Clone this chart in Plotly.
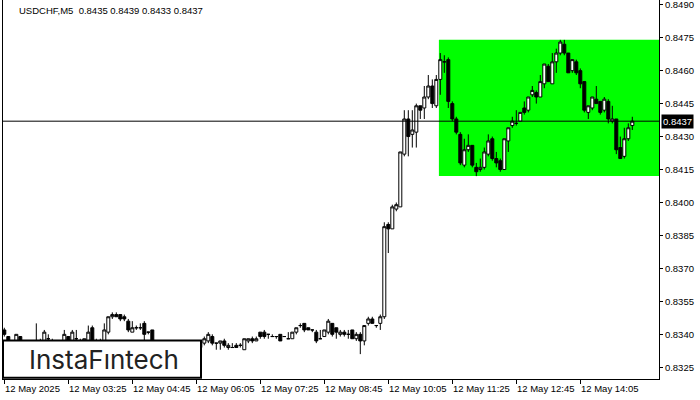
import pandas as pd
import plotly.graph_objects as go

title_text = "USDCHF,M5  0.8435 0.8439 0.8433 0.8437"
first_bar = "2025-05-12 02:05"

opens = [
    0.8342, 0.8339, 0.8336, 0.8335, 0.8339, 0.8336, 0.8335, 0.8334, 0.8335, 0.8336,
    0.8336, 0.8338, 0.8337, 0.8336, 0.8337, 0.8336, 0.8339, 0.8336, 0.8338, 0.8337,
    0.8337, 0.8336, 0.8343, 0.8337, 0.8337, 0.8336, 0.8341, 0.8348, 0.8349, 0.8349,
    0.8348, 0.8346, 0.8341, 0.8343, 0.8343, 0.8345, 0.8341, 0.8342, 0.8336, 0.8335,
    0.8334, 0.8333, 0.8334, 0.8335, 0.8334, 0.8335, 0.8336, 0.8335, 0.8335, 0.8334,
    0.8336, 0.8337, 0.8339, 0.8336, 0.8336, 0.8337, 0.8334, 0.8334, 0.8335, 0.8335,
    0.8333, 0.8337, 0.8338, 0.8337, 0.8341, 0.8341, 0.8340, 0.8339, 0.8339, 0.8340,
    0.8339, 0.8338, 0.8338, 0.8341, 0.8344, 0.8345, 0.8343, 0.8342, 0.8341, 0.8338,
    0.8339, 0.8341, 0.8345, 0.8343, 0.8340, 0.8341, 0.8340, 0.8342, 0.8338, 0.8340,
    0.8337, 0.8345, 0.8347, 0.8344, 0.8345, 0.8348, 0.8390, 0.8388, 0.8397, 0.8398,
    0.8422, 0.8438, 0.8431, 0.8432, 0.8444, 0.8443, 0.8448, 0.8453, 0.8444, 0.8456,
    0.8464, 0.8465, 0.8445, 0.8438, 0.8431, 0.8417, 0.8424, 0.8426, 0.8416, 0.8415,
    0.8416, 0.8422, 0.8429, 0.8420, 0.8419, 0.8415, 0.8428, 0.8435, 0.8436, 0.8437,
    0.8443, 0.8442, 0.8449, 0.8450, 0.8448, 0.8454, 0.8462, 0.8454, 0.8464, 0.8468,
    0.8472, 0.8468, 0.8460, 0.8464, 0.8460, 0.8455, 0.8441, 0.8443, 0.8447, 0.8446,
    0.8442, 0.8446, 0.8437, 0.8438, 0.8425, 0.8421, 0.8429, 0.8435,
]
highs = [
    0.8343, 0.8339, 0.8337, 0.8340, 0.8339, 0.8337, 0.8336, 0.8336, 0.8345, 0.8338,
    0.8342, 0.8340, 0.8338, 0.8337, 0.8337, 0.8342, 0.8339, 0.8342, 0.8342, 0.8338,
    0.8338, 0.8344, 0.8344, 0.8338, 0.8338, 0.8345, 0.8348, 0.8350, 0.8350, 0.8349,
    0.8349, 0.8347, 0.8346, 0.8344, 0.8345, 0.8346, 0.8341, 0.8342, 0.8337, 0.8336,
    0.8335, 0.8335, 0.8336, 0.8336, 0.8336, 0.8337, 0.8337, 0.8336, 0.8336, 0.8336,
    0.8339, 0.8341, 0.8340, 0.8336, 0.8337, 0.8338, 0.8336, 0.8336, 0.8336, 0.8336,
    0.8338, 0.8338, 0.8339, 0.8339, 0.8341, 0.8342, 0.8340, 0.8340, 0.8339, 0.8340,
    0.8339, 0.8341, 0.8341, 0.8343, 0.8345, 0.8345, 0.8343, 0.8342, 0.8342, 0.8342,
    0.8342, 0.8347, 0.8345, 0.8343, 0.8342, 0.8342, 0.8342, 0.8342, 0.8341, 0.8341,
    0.8344, 0.8348, 0.8348, 0.8344, 0.8349, 0.8391, 0.8391, 0.8399, 0.8400, 0.8423,
    0.8442, 0.8442, 0.8442, 0.8445, 0.8444, 0.8453, 0.8458, 0.8456, 0.8458, 0.8468,
    0.8467, 0.8466, 0.8446, 0.8439, 0.8432, 0.8429, 0.8431, 0.8426, 0.8418, 0.8420,
    0.8425, 0.8431, 0.8430, 0.8423, 0.8420, 0.8429, 0.8434, 0.8439, 0.8442, 0.8441,
    0.8446, 0.8448, 0.8453, 0.8451, 0.8458, 0.8463, 0.8463, 0.8468, 0.8470, 0.8474,
    0.8474, 0.8468, 0.8465, 0.8465, 0.8461, 0.8455, 0.8444, 0.8448, 0.8453, 0.8446,
    0.8448, 0.8447, 0.8444, 0.8438, 0.8430, 0.8434, 0.8436, 0.8439,
]
lows = [
    0.8339, 0.8335, 0.8334, 0.8334, 0.8335, 0.8334, 0.8333, 0.8333, 0.8334, 0.8335,
    0.8335, 0.8337, 0.8336, 0.8334, 0.8335, 0.8335, 0.8336, 0.8335, 0.8337, 0.8336,
    0.8336, 0.8335, 0.8335, 0.8336, 0.8336, 0.8335, 0.8340, 0.8347, 0.8348, 0.8346,
    0.8346, 0.8341, 0.8341, 0.8342, 0.8342, 0.8337, 0.8340, 0.8335, 0.8334, 0.8333,
    0.8332, 0.8332, 0.8333, 0.8333, 0.8333, 0.8334, 0.8334, 0.8334, 0.8333, 0.8333,
    0.8335, 0.8336, 0.8335, 0.8333, 0.8333, 0.8334, 0.8333, 0.8334, 0.8334, 0.8334,
    0.8333, 0.8336, 0.8336, 0.8337, 0.8338, 0.8338, 0.8338, 0.8339, 0.8338, 0.8337,
    0.8339, 0.8338, 0.8338, 0.8340, 0.8343, 0.8341, 0.8342, 0.8341, 0.8336, 0.8338,
    0.8339, 0.8340, 0.8339, 0.8338, 0.8339, 0.8339, 0.8338, 0.8338, 0.8337, 0.8331,
    0.8335, 0.8344, 0.8345, 0.8343, 0.8342, 0.8347, 0.8377, 0.8388, 0.8396, 0.8398,
    0.8421, 0.8421, 0.8425, 0.8425, 0.8438, 0.8438, 0.8447, 0.8443, 0.8443, 0.8449,
    0.8459, 0.8443, 0.8437, 0.8431, 0.8417, 0.8416, 0.8423, 0.8416, 0.8412, 0.8414,
    0.8415, 0.8421, 0.8419, 0.8416, 0.8414, 0.8415, 0.8423, 0.8434, 0.8435, 0.8437,
    0.8440, 0.8441, 0.8448, 0.8445, 0.8448, 0.8452, 0.8455, 0.8454, 0.8459, 0.8467,
    0.8467, 0.8459, 0.8459, 0.8458, 0.8452, 0.8441, 0.8438, 0.8442, 0.8445, 0.8440,
    0.8441, 0.8436, 0.8436, 0.8422, 0.8420, 0.8420, 0.8428, 0.8433,
]
closes = [
    0.8340, 0.8336, 0.8335, 0.8340, 0.8336, 0.8335, 0.8334, 0.8335, 0.8336, 0.8337,
    0.8341, 0.8338, 0.8337, 0.8335, 0.8337, 0.8340, 0.8337, 0.8341, 0.8338, 0.8337,
    0.8338, 0.8341, 0.8336, 0.8337, 0.8337, 0.8342, 0.8348, 0.8349, 0.8348, 0.8347,
    0.8347, 0.8342, 0.8343, 0.8343, 0.8343, 0.8340, 0.8341, 0.8336, 0.8335, 0.8334,
    0.8333, 0.8334, 0.8335, 0.8334, 0.8335, 0.8336, 0.8335, 0.8335, 0.8334, 0.8336,
    0.8338, 0.8340, 0.8336, 0.8336, 0.8337, 0.8335, 0.8335, 0.8334, 0.8334, 0.8335,
    0.8338, 0.8338, 0.8337, 0.8338, 0.8339, 0.8339, 0.8340, 0.8339, 0.8339, 0.8337,
    0.8339, 0.8338, 0.8341, 0.8343, 0.8344, 0.8342, 0.8342, 0.8342, 0.8337, 0.8338,
    0.8342, 0.8346, 0.8340, 0.8341, 0.8341, 0.8340, 0.8340, 0.8338, 0.8340, 0.8337,
    0.8344, 0.8347, 0.8345, 0.8344, 0.8348, 0.8389, 0.8388, 0.8398, 0.8399, 0.8423,
    0.8438, 0.8430, 0.8433, 0.8444, 0.8442, 0.8448, 0.8453, 0.8445, 0.8456, 0.8465,
    0.8464, 0.8446, 0.8438, 0.8432, 0.8418, 0.8424, 0.8426, 0.8417, 0.8414, 0.8416,
    0.8423, 0.8428, 0.8420, 0.8418, 0.8415, 0.8429, 0.8434, 0.8437, 0.8436, 0.8441,
    0.8441, 0.8448, 0.8451, 0.8448, 0.8455, 0.8463, 0.8455, 0.8464, 0.8468, 0.8473,
    0.8468, 0.8459, 0.8465, 0.8459, 0.8454, 0.8442, 0.8444, 0.8448, 0.8445, 0.8441,
    0.8447, 0.8438, 0.8438, 0.8424, 0.8420, 0.8429, 0.8434, 0.8437,
]

tick_bars = [0, 16, 32, 48, 64, 80, 96, 112, 128, 144]
tick_labels = ["12 May 2025", "12 May 03:25", "12 May 04:45", "12 May 06:05",
               "12 May 07:25", "12 May 08:45", "12 May 10:05", "12 May 11:25",
               "12 May 12:45", "12 May 14:05"]
price_ticks = [0.8325, 0.8340, 0.8355, 0.8370, 0.8385, 0.8400, 0.8415,
               0.8430, 0.8445, 0.8460, 0.8475, 0.8490]
current_price = 0.8437
pattern_low = 0.8412
pattern_high = 0.8474
pattern_start_bar = 109
logo_text = "InstaF\u0131ntech"

FONT = "Liberation Sans"
step = pd.Timedelta(minutes=5)
times = pd.date_range(first_bar, periods=len(opens), freq="5min")
t0 = times[0]


def bar_time(k):
    return t0 + step * k


x_left = bar_time(-0.325)
x_right = bar_time(163.675)

fig = go.Figure()
fig.add_trace(go.Candlestick(
    x=times, open=opens, high=highs, low=lows, close=closes,
    increasing=dict(line=dict(color="black", width=1), fillcolor="white"),
    decreasing=dict(line=dict(color="black", width=1), fillcolor="black"),
    whiskerwidth=0, hoverinfo="skip", showlegend=False,
))

shapes = [
    dict(type="rect", xref="x", yref="y",
         x0=bar_time(pattern_start_bar - 0.35), x1=x_right,
         y0=pattern_low, y1=pattern_high,
         fillcolor="#00FF00", line=dict(width=0), layer="below"),
    dict(type="line", xref="paper", yref="y", x0=0, x1=1,
         y0=current_price, y1=current_price,
         line=dict(color="black", width=1), layer="above"),
    dict(type="rect", xref="paper", yref="paper",
         x0=0.0, x1=198 / 656, y0=1.2 / 379, y1=38.5 / 379,
         fillcolor="white", line=dict(color="black", width=2), layer="above"),
]

annotations = []
for b, lab in zip(tick_bars, tick_labels):
    annotations.append(dict(
        x=bar_time(b), xref="x", y=0, yref="paper", text=lab,
        showarrow=False, xanchor="left", yanchor="top", xshift=-1, yshift=-2,
        font=dict(family=FONT, size=9.5, color="black")))

annotations.append(dict(
    x=0, xref="paper", y=1, yref="paper", text=title_text, showarrow=False,
    xanchor="left", yanchor="top", xshift=14, yshift=-3,
    font=dict(family=FONT, size=9.5, color="black")))

annotations.append(dict(
    x=1, xref="paper", y=current_price, yref="y", text=f"{current_price:.4f}",
    showarrow=False, xanchor="left", yanchor="middle", xshift=2,
    bgcolor="black", borderpad=1,
    font=dict(family=FONT, size=9.5, color="white")))

annotations.append(dict(
    x=101 / 656, xref="paper", y=19.5 / 379, yref="paper", text=logo_text,
    showarrow=False, xanchor="center", yanchor="middle",
    font=dict(family="Inter", size=26, color="#222222", weight=400)))

fig.update_layout(
    width=700, height=400,
    margin=dict(l=3, r=41, t=0, b=21),
    paper_bgcolor="white", plot_bgcolor="white",
    boxgap=0.25, boxgroupgap=0,
    shapes=shapes, annotations=annotations,
    showlegend=False,
)
fig.update_xaxes(
    type="date", range=[x_left, x_right],
    rangeslider=dict(visible=False),
    showgrid=False, zeroline=False,
    showline=True, linecolor="black", linewidth=1,
    tickvals=[bar_time(b) for b in tick_bars], ticktext=[""] * len(tick_bars),
    ticks="outside", ticklen=4, tickcolor="black", tickwidth=1,
    showticklabels=False,
)
fig.update_yaxes(
    range=[0.831968, 0.849214], side="right",
    showgrid=False, zeroline=False,
    showline=True, linecolor="black", linewidth=1, mirror=True,
    tickvals=price_ticks, ticktext=[f"{v:.4f}" for v in price_ticks],
    ticks="outside", ticklen=3, tickcolor="black", tickwidth=1,
    ticklabeloverflow="allow",
    tickfont=dict(family=FONT, size=9.5, color="black"),
)

fig.write_html(
    "out.html",
    config={"displayModeBar": False},
    post_script="document.body.style.margin='0';document.body.style.overflow='hidden';",
)
